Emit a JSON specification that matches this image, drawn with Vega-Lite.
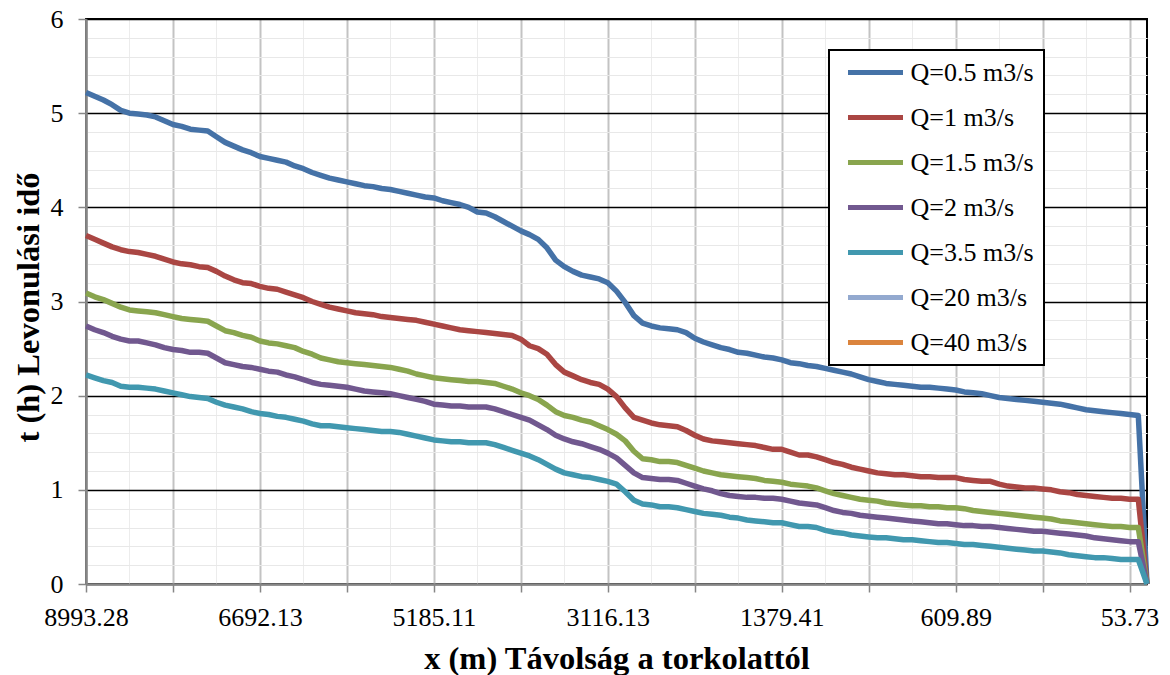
{
"$schema":"https://vega.github.io/schema/vega-lite/v6.json",
"width":1061,"height":565,
"autosize":{"type":"none"},
"padding":{"left":86,"top":19,"right":23,"bottom":91},
"background":"white",
"config":{"font":"Liberation Serif","view":{"stroke":"#000000","strokeWidth":2},"legend":{"strokeWidth":2},
 "axis":{"labelFont":"Liberation Serif","titleFont":"Liberation Serif"}},
"data":{"values":[
{"x":"8993.28","Q":"Q=0.5 m3/s","t":5.22},{"x":"8870.52","Q":"Q=0.5 m3/s","t":5.18},{"x":"8754.10","Q":"Q=0.5 m3/s","t":5.14},{"x":"8641.87","Q":"Q=0.5 m3/s","t":5.09},{"x":"8520.33","Q":"Q=0.5 m3/s","t":5.03},{"x":"8405.96","Q":"Q=0.5 m3/s","t":5.00},{"x":"8290.41","Q":"Q=0.5 m3/s","t":4.99},{"x":"8172.65","Q":"Q=0.5 m3/s","t":4.98},{"x":"8058.02","Q":"Q=0.5 m3/s","t":4.96},{"x":"7944.70","Q":"Q=0.5 m3/s","t":4.92},
{"x":"7829.15","Q":"Q=0.5 m3/s","t":4.88},{"x":"7712.84","Q":"Q=0.5 m3/s","t":4.86},{"x":"7598.37","Q":"Q=0.5 m3/s","t":4.83},{"x":"7480.92","Q":"Q=0.5 m3/s","t":4.82},{"x":"7366.28","Q":"Q=0.5 m3/s","t":4.81},{"x":"7251.60","Q":"Q=0.5 m3/s","t":4.75},{"x":"7137.45","Q":"Q=0.5 m3/s","t":4.69},{"x":"7020.13","Q":"Q=0.5 m3/s","t":4.65},{"x":"6904.79","Q":"Q=0.5 m3/s","t":4.61},{"x":"6795.34","Q":"Q=0.5 m3/s","t":4.58},
{"x":"6692.13","Q":"Q=0.5 m3/s","t":4.54},{"x":"6617.40","Q":"Q=0.5 m3/s","t":4.52},{"x":"6541.88","Q":"Q=0.5 m3/s","t":4.50},{"x":"6466.05","Q":"Q=0.5 m3/s","t":4.48},{"x":"6390.72","Q":"Q=0.5 m3/s","t":4.44},{"x":"6315.16","Q":"Q=0.5 m3/s","t":4.41},{"x":"6240.93","Q":"Q=0.5 m3/s","t":4.37},{"x":"6163.57","Q":"Q=0.5 m3/s","t":4.34},{"x":"6088.24","Q":"Q=0.5 m3/s","t":4.31},{"x":"6013.81","Q":"Q=0.5 m3/s","t":4.29},
{"x":"5938.36","Q":"Q=0.5 m3/s","t":4.27},{"x":"5862.70","Q":"Q=0.5 m3/s","t":4.25},{"x":"5787.45","Q":"Q=0.5 m3/s","t":4.23},{"x":"5712.09","Q":"Q=0.5 m3/s","t":4.22},{"x":"5636.78","Q":"Q=0.5 m3/s","t":4.20},{"x":"5561.32","Q":"Q=0.5 m3/s","t":4.19},{"x":"5486.04","Q":"Q=0.5 m3/s","t":4.17},{"x":"5410.67","Q":"Q=0.5 m3/s","t":4.15},{"x":"5335.29","Q":"Q=0.5 m3/s","t":4.13},{"x":"5260.48","Q":"Q=0.5 m3/s","t":4.11},
{"x":"5185.11","Q":"Q=0.5 m3/s","t":4.10},{"x":"5081.56","Q":"Q=0.5 m3/s","t":4.07},{"x":"4978.20","Q":"Q=0.5 m3/s","t":4.05},{"x":"4875.03","Q":"Q=0.5 m3/s","t":4.03},{"x":"4771.69","Q":"Q=0.5 m3/s","t":4.00},{"x":"4668.31","Q":"Q=0.5 m3/s","t":3.95},{"x":"4565.12","Q":"Q=0.5 m3/s","t":3.94},{"x":"4461.74","Q":"Q=0.5 m3/s","t":3.90},{"x":"4358.40","Q":"Q=0.5 m3/s","t":3.85},{"x":"4255.05","Q":"Q=0.5 m3/s","t":3.80},
{"x":"4151.63","Q":"Q=0.5 m3/s","t":3.75},{"x":"4048.27","Q":"Q=0.5 m3/s","t":3.71},{"x":"3944.91","Q":"Q=0.5 m3/s","t":3.66},{"x":"3841.52","Q":"Q=0.5 m3/s","t":3.57},{"x":"3738.18","Q":"Q=0.5 m3/s","t":3.44},{"x":"3634.86","Q":"Q=0.5 m3/s","t":3.37},{"x":"3531.44","Q":"Q=0.5 m3/s","t":3.32},{"x":"3428.09","Q":"Q=0.5 m3/s","t":3.28},{"x":"3324.73","Q":"Q=0.5 m3/s","t":3.26},{"x":"3220.37","Q":"Q=0.5 m3/s","t":3.24},
{"x":"3116.13","Q":"Q=0.5 m3/s","t":3.20},{"x":"3029.29","Q":"Q=0.5 m3/s","t":3.11},{"x":"2942.45","Q":"Q=0.5 m3/s","t":2.99},{"x":"2855.62","Q":"Q=0.5 m3/s","t":2.85},{"x":"2768.78","Q":"Q=0.5 m3/s","t":2.77},{"x":"2681.95","Q":"Q=0.5 m3/s","t":2.74},{"x":"2595.11","Q":"Q=0.5 m3/s","t":2.72},{"x":"2508.27","Q":"Q=0.5 m3/s","t":2.71},{"x":"2421.44","Q":"Q=0.5 m3/s","t":2.70},{"x":"2334.60","Q":"Q=0.5 m3/s","t":2.67},
{"x":"2247.77","Q":"Q=0.5 m3/s","t":2.61},{"x":"2160.93","Q":"Q=0.5 m3/s","t":2.57},{"x":"2074.09","Q":"Q=0.5 m3/s","t":2.54},{"x":"1987.26","Q":"Q=0.5 m3/s","t":2.51},{"x":"1900.42","Q":"Q=0.5 m3/s","t":2.49},{"x":"1813.59","Q":"Q=0.5 m3/s","t":2.46},{"x":"1726.75","Q":"Q=0.5 m3/s","t":2.45},{"x":"1639.91","Q":"Q=0.5 m3/s","t":2.43},{"x":"1553.08","Q":"Q=0.5 m3/s","t":2.41},{"x":"1466.24","Q":"Q=0.5 m3/s","t":2.40},
{"x":"1379.41","Q":"Q=0.5 m3/s","t":2.38},{"x":"1340.93","Q":"Q=0.5 m3/s","t":2.35},{"x":"1302.46","Q":"Q=0.5 m3/s","t":2.34},{"x":"1263.98","Q":"Q=0.5 m3/s","t":2.32},{"x":"1225.51","Q":"Q=0.5 m3/s","t":2.31},{"x":"1187.03","Q":"Q=0.5 m3/s","t":2.29},{"x":"1148.56","Q":"Q=0.5 m3/s","t":2.27},{"x":"1110.08","Q":"Q=0.5 m3/s","t":2.25},{"x":"1071.61","Q":"Q=0.5 m3/s","t":2.23},{"x":"1033.13","Q":"Q=0.5 m3/s","t":2.20},
{"x":"994.66","Q":"Q=0.5 m3/s","t":2.17},{"x":"956.18","Q":"Q=0.5 m3/s","t":2.15},{"x":"917.71","Q":"Q=0.5 m3/s","t":2.13},{"x":"879.23","Q":"Q=0.5 m3/s","t":2.12},{"x":"840.76","Q":"Q=0.5 m3/s","t":2.11},{"x":"802.28","Q":"Q=0.5 m3/s","t":2.10},{"x":"763.81","Q":"Q=0.5 m3/s","t":2.09},{"x":"725.33","Q":"Q=0.5 m3/s","t":2.09},{"x":"686.86","Q":"Q=0.5 m3/s","t":2.08},{"x":"648.38","Q":"Q=0.5 m3/s","t":2.07},
{"x":"609.89","Q":"Q=0.5 m3/s","t":2.06},{"x":"582.08","Q":"Q=0.5 m3/s","t":2.04},{"x":"554.27","Q":"Q=0.5 m3/s","t":2.03},{"x":"526.46","Q":"Q=0.5 m3/s","t":2.02},{"x":"498.65","Q":"Q=0.5 m3/s","t":2.00},{"x":"470.84","Q":"Q=0.5 m3/s","t":1.98},{"x":"443.03","Q":"Q=0.5 m3/s","t":1.97},{"x":"415.22","Q":"Q=0.5 m3/s","t":1.96},{"x":"387.41","Q":"Q=0.5 m3/s","t":1.95},{"x":"359.60","Q":"Q=0.5 m3/s","t":1.94},
{"x":"331.79","Q":"Q=0.5 m3/s","t":1.93},{"x":"303.98","Q":"Q=0.5 m3/s","t":1.92},{"x":"276.17","Q":"Q=0.5 m3/s","t":1.91},{"x":"248.36","Q":"Q=0.5 m3/s","t":1.89},{"x":"220.55","Q":"Q=0.5 m3/s","t":1.87},{"x":"192.74","Q":"Q=0.5 m3/s","t":1.85},{"x":"164.93","Q":"Q=0.5 m3/s","t":1.84},{"x":"137.12","Q":"Q=0.5 m3/s","t":1.83},{"x":"109.31","Q":"Q=0.5 m3/s","t":1.82},{"x":"81.50","Q":"Q=0.5 m3/s","t":1.81},
{"x":"53.73","Q":"Q=0.5 m3/s","t":1.80},{"x":"26.85","Q":"Q=0.5 m3/s","t":1.79},{"x":"0.00","Q":"Q=0.5 m3/s","t":0},

{"x":"8993.28","Q":"Q=1 m3/s","t":3.70},{"x":"8870.52","Q":"Q=1 m3/s","t":3.66},{"x":"8754.10","Q":"Q=1 m3/s","t":3.62},{"x":"8641.87","Q":"Q=1 m3/s","t":3.58},{"x":"8520.33","Q":"Q=1 m3/s","t":3.55},{"x":"8405.96","Q":"Q=1 m3/s","t":3.53},{"x":"8290.41","Q":"Q=1 m3/s","t":3.52},{"x":"8172.65","Q":"Q=1 m3/s","t":3.50},{"x":"8058.02","Q":"Q=1 m3/s","t":3.48},{"x":"7944.70","Q":"Q=1 m3/s","t":3.45},
{"x":"7829.15","Q":"Q=1 m3/s","t":3.42},{"x":"7712.84","Q":"Q=1 m3/s","t":3.40},{"x":"7598.37","Q":"Q=1 m3/s","t":3.39},{"x":"7480.92","Q":"Q=1 m3/s","t":3.37},{"x":"7366.28","Q":"Q=1 m3/s","t":3.36},{"x":"7251.60","Q":"Q=1 m3/s","t":3.32},{"x":"7137.45","Q":"Q=1 m3/s","t":3.27},{"x":"7020.13","Q":"Q=1 m3/s","t":3.23},{"x":"6904.79","Q":"Q=1 m3/s","t":3.20},{"x":"6795.34","Q":"Q=1 m3/s","t":3.19},
{"x":"6692.13","Q":"Q=1 m3/s","t":3.16},{"x":"6617.40","Q":"Q=1 m3/s","t":3.14},{"x":"6541.88","Q":"Q=1 m3/s","t":3.13},{"x":"6466.05","Q":"Q=1 m3/s","t":3.10},{"x":"6390.72","Q":"Q=1 m3/s","t":3.07},{"x":"6315.16","Q":"Q=1 m3/s","t":3.04},{"x":"6240.93","Q":"Q=1 m3/s","t":3.00},{"x":"6163.57","Q":"Q=1 m3/s","t":2.97},{"x":"6088.24","Q":"Q=1 m3/s","t":2.94},{"x":"6013.81","Q":"Q=1 m3/s","t":2.92},
{"x":"5938.36","Q":"Q=1 m3/s","t":2.90},{"x":"5862.70","Q":"Q=1 m3/s","t":2.88},{"x":"5787.45","Q":"Q=1 m3/s","t":2.87},{"x":"5712.09","Q":"Q=1 m3/s","t":2.86},{"x":"5636.78","Q":"Q=1 m3/s","t":2.84},{"x":"5561.32","Q":"Q=1 m3/s","t":2.83},{"x":"5486.04","Q":"Q=1 m3/s","t":2.82},{"x":"5410.67","Q":"Q=1 m3/s","t":2.81},{"x":"5335.29","Q":"Q=1 m3/s","t":2.80},{"x":"5260.48","Q":"Q=1 m3/s","t":2.78},
{"x":"5185.11","Q":"Q=1 m3/s","t":2.76},{"x":"5081.56","Q":"Q=1 m3/s","t":2.74},{"x":"4978.20","Q":"Q=1 m3/s","t":2.72},{"x":"4875.03","Q":"Q=1 m3/s","t":2.70},{"x":"4771.69","Q":"Q=1 m3/s","t":2.69},{"x":"4668.31","Q":"Q=1 m3/s","t":2.68},{"x":"4565.12","Q":"Q=1 m3/s","t":2.67},{"x":"4461.74","Q":"Q=1 m3/s","t":2.66},{"x":"4358.40","Q":"Q=1 m3/s","t":2.65},{"x":"4255.05","Q":"Q=1 m3/s","t":2.64},
{"x":"4151.63","Q":"Q=1 m3/s","t":2.60},{"x":"4048.27","Q":"Q=1 m3/s","t":2.53},{"x":"3944.91","Q":"Q=1 m3/s","t":2.50},{"x":"3841.52","Q":"Q=1 m3/s","t":2.44},{"x":"3738.18","Q":"Q=1 m3/s","t":2.33},{"x":"3634.86","Q":"Q=1 m3/s","t":2.25},{"x":"3531.44","Q":"Q=1 m3/s","t":2.21},{"x":"3428.09","Q":"Q=1 m3/s","t":2.17},{"x":"3324.73","Q":"Q=1 m3/s","t":2.14},{"x":"3220.37","Q":"Q=1 m3/s","t":2.12},
{"x":"3116.13","Q":"Q=1 m3/s","t":2.07},{"x":"3029.29","Q":"Q=1 m3/s","t":1.99},{"x":"2942.45","Q":"Q=1 m3/s","t":1.87},{"x":"2855.62","Q":"Q=1 m3/s","t":1.77},{"x":"2768.78","Q":"Q=1 m3/s","t":1.74},{"x":"2681.95","Q":"Q=1 m3/s","t":1.71},{"x":"2595.11","Q":"Q=1 m3/s","t":1.69},{"x":"2508.27","Q":"Q=1 m3/s","t":1.68},{"x":"2421.44","Q":"Q=1 m3/s","t":1.67},{"x":"2334.60","Q":"Q=1 m3/s","t":1.63},
{"x":"2247.77","Q":"Q=1 m3/s","t":1.58},{"x":"2160.93","Q":"Q=1 m3/s","t":1.54},{"x":"2074.09","Q":"Q=1 m3/s","t":1.52},{"x":"1987.26","Q":"Q=1 m3/s","t":1.51},{"x":"1900.42","Q":"Q=1 m3/s","t":1.50},{"x":"1813.59","Q":"Q=1 m3/s","t":1.49},{"x":"1726.75","Q":"Q=1 m3/s","t":1.48},{"x":"1639.91","Q":"Q=1 m3/s","t":1.47},{"x":"1553.08","Q":"Q=1 m3/s","t":1.45},{"x":"1466.24","Q":"Q=1 m3/s","t":1.43},
{"x":"1379.41","Q":"Q=1 m3/s","t":1.43},{"x":"1340.93","Q":"Q=1 m3/s","t":1.40},{"x":"1302.46","Q":"Q=1 m3/s","t":1.37},{"x":"1263.98","Q":"Q=1 m3/s","t":1.37},{"x":"1225.51","Q":"Q=1 m3/s","t":1.35},{"x":"1187.03","Q":"Q=1 m3/s","t":1.32},{"x":"1148.56","Q":"Q=1 m3/s","t":1.29},{"x":"1110.08","Q":"Q=1 m3/s","t":1.27},{"x":"1071.61","Q":"Q=1 m3/s","t":1.24},{"x":"1033.13","Q":"Q=1 m3/s","t":1.22},
{"x":"994.66","Q":"Q=1 m3/s","t":1.20},{"x":"956.18","Q":"Q=1 m3/s","t":1.18},{"x":"917.71","Q":"Q=1 m3/s","t":1.17},{"x":"879.23","Q":"Q=1 m3/s","t":1.16},{"x":"840.76","Q":"Q=1 m3/s","t":1.16},{"x":"802.28","Q":"Q=1 m3/s","t":1.15},{"x":"763.81","Q":"Q=1 m3/s","t":1.14},{"x":"725.33","Q":"Q=1 m3/s","t":1.14},{"x":"686.86","Q":"Q=1 m3/s","t":1.13},{"x":"648.38","Q":"Q=1 m3/s","t":1.13},
{"x":"609.89","Q":"Q=1 m3/s","t":1.13},{"x":"582.08","Q":"Q=1 m3/s","t":1.11},{"x":"554.27","Q":"Q=1 m3/s","t":1.10},{"x":"526.46","Q":"Q=1 m3/s","t":1.09},{"x":"498.65","Q":"Q=1 m3/s","t":1.09},{"x":"470.84","Q":"Q=1 m3/s","t":1.06},{"x":"443.03","Q":"Q=1 m3/s","t":1.04},{"x":"415.22","Q":"Q=1 m3/s","t":1.03},{"x":"387.41","Q":"Q=1 m3/s","t":1.02},{"x":"359.60","Q":"Q=1 m3/s","t":1.02},
{"x":"331.79","Q":"Q=1 m3/s","t":1.01},{"x":"303.98","Q":"Q=1 m3/s","t":1.00},{"x":"276.17","Q":"Q=1 m3/s","t":0.98},{"x":"248.36","Q":"Q=1 m3/s","t":0.97},{"x":"220.55","Q":"Q=1 m3/s","t":0.95},{"x":"192.74","Q":"Q=1 m3/s","t":0.94},{"x":"164.93","Q":"Q=1 m3/s","t":0.93},{"x":"137.12","Q":"Q=1 m3/s","t":0.92},{"x":"109.31","Q":"Q=1 m3/s","t":0.91},{"x":"81.50","Q":"Q=1 m3/s","t":0.91},
{"x":"53.73","Q":"Q=1 m3/s","t":0.90},{"x":"26.85","Q":"Q=1 m3/s","t":0.90},{"x":"0.00","Q":"Q=1 m3/s","t":0},

{"x":"8993.28","Q":"Q=1.5 m3/s","t":3.09},{"x":"8870.52","Q":"Q=1.5 m3/s","t":3.05},{"x":"8754.10","Q":"Q=1.5 m3/s","t":3.02},{"x":"8641.87","Q":"Q=1.5 m3/s","t":2.98},{"x":"8520.33","Q":"Q=1.5 m3/s","t":2.94},{"x":"8405.96","Q":"Q=1.5 m3/s","t":2.91},{"x":"8290.41","Q":"Q=1.5 m3/s","t":2.90},{"x":"8172.65","Q":"Q=1.5 m3/s","t":2.89},{"x":"8058.02","Q":"Q=1.5 m3/s","t":2.88},{"x":"7944.70","Q":"Q=1.5 m3/s","t":2.86},
{"x":"7829.15","Q":"Q=1.5 m3/s","t":2.84},{"x":"7712.84","Q":"Q=1.5 m3/s","t":2.82},{"x":"7598.37","Q":"Q=1.5 m3/s","t":2.81},{"x":"7480.92","Q":"Q=1.5 m3/s","t":2.80},{"x":"7366.28","Q":"Q=1.5 m3/s","t":2.79},{"x":"7251.60","Q":"Q=1.5 m3/s","t":2.74},{"x":"7137.45","Q":"Q=1.5 m3/s","t":2.69},{"x":"7020.13","Q":"Q=1.5 m3/s","t":2.67},{"x":"6904.79","Q":"Q=1.5 m3/s","t":2.64},{"x":"6795.34","Q":"Q=1.5 m3/s","t":2.62},
{"x":"6692.13","Q":"Q=1.5 m3/s","t":2.58},{"x":"6617.40","Q":"Q=1.5 m3/s","t":2.56},{"x":"6541.88","Q":"Q=1.5 m3/s","t":2.55},{"x":"6466.05","Q":"Q=1.5 m3/s","t":2.53},{"x":"6390.72","Q":"Q=1.5 m3/s","t":2.51},{"x":"6315.16","Q":"Q=1.5 m3/s","t":2.47},{"x":"6240.93","Q":"Q=1.5 m3/s","t":2.44},{"x":"6163.57","Q":"Q=1.5 m3/s","t":2.40},{"x":"6088.24","Q":"Q=1.5 m3/s","t":2.38},{"x":"6013.81","Q":"Q=1.5 m3/s","t":2.36},
{"x":"5938.36","Q":"Q=1.5 m3/s","t":2.35},{"x":"5862.70","Q":"Q=1.5 m3/s","t":2.34},{"x":"5787.45","Q":"Q=1.5 m3/s","t":2.33},{"x":"5712.09","Q":"Q=1.5 m3/s","t":2.32},{"x":"5636.78","Q":"Q=1.5 m3/s","t":2.31},{"x":"5561.32","Q":"Q=1.5 m3/s","t":2.30},{"x":"5486.04","Q":"Q=1.5 m3/s","t":2.28},{"x":"5410.67","Q":"Q=1.5 m3/s","t":2.26},{"x":"5335.29","Q":"Q=1.5 m3/s","t":2.23},{"x":"5260.48","Q":"Q=1.5 m3/s","t":2.21},
{"x":"5185.11","Q":"Q=1.5 m3/s","t":2.19},{"x":"5081.56","Q":"Q=1.5 m3/s","t":2.18},{"x":"4978.20","Q":"Q=1.5 m3/s","t":2.17},{"x":"4875.03","Q":"Q=1.5 m3/s","t":2.16},{"x":"4771.69","Q":"Q=1.5 m3/s","t":2.15},{"x":"4668.31","Q":"Q=1.5 m3/s","t":2.15},{"x":"4565.12","Q":"Q=1.5 m3/s","t":2.14},{"x":"4461.74","Q":"Q=1.5 m3/s","t":2.13},{"x":"4358.40","Q":"Q=1.5 m3/s","t":2.10},{"x":"4255.05","Q":"Q=1.5 m3/s","t":2.07},
{"x":"4151.63","Q":"Q=1.5 m3/s","t":2.03},{"x":"4048.27","Q":"Q=1.5 m3/s","t":2.00},{"x":"3944.91","Q":"Q=1.5 m3/s","t":1.96},{"x":"3841.52","Q":"Q=1.5 m3/s","t":1.90},{"x":"3738.18","Q":"Q=1.5 m3/s","t":1.83},{"x":"3634.86","Q":"Q=1.5 m3/s","t":1.79},{"x":"3531.44","Q":"Q=1.5 m3/s","t":1.77},{"x":"3428.09","Q":"Q=1.5 m3/s","t":1.74},{"x":"3324.73","Q":"Q=1.5 m3/s","t":1.72},{"x":"3220.37","Q":"Q=1.5 m3/s","t":1.68},
{"x":"3116.13","Q":"Q=1.5 m3/s","t":1.64},{"x":"3029.29","Q":"Q=1.5 m3/s","t":1.59},{"x":"2942.45","Q":"Q=1.5 m3/s","t":1.52},{"x":"2855.62","Q":"Q=1.5 m3/s","t":1.41},{"x":"2768.78","Q":"Q=1.5 m3/s","t":1.33},{"x":"2681.95","Q":"Q=1.5 m3/s","t":1.32},{"x":"2595.11","Q":"Q=1.5 m3/s","t":1.30},{"x":"2508.27","Q":"Q=1.5 m3/s","t":1.30},{"x":"2421.44","Q":"Q=1.5 m3/s","t":1.29},{"x":"2334.60","Q":"Q=1.5 m3/s","t":1.26},
{"x":"2247.77","Q":"Q=1.5 m3/s","t":1.23},{"x":"2160.93","Q":"Q=1.5 m3/s","t":1.20},{"x":"2074.09","Q":"Q=1.5 m3/s","t":1.18},{"x":"1987.26","Q":"Q=1.5 m3/s","t":1.16},{"x":"1900.42","Q":"Q=1.5 m3/s","t":1.15},{"x":"1813.59","Q":"Q=1.5 m3/s","t":1.14},{"x":"1726.75","Q":"Q=1.5 m3/s","t":1.13},{"x":"1639.91","Q":"Q=1.5 m3/s","t":1.12},{"x":"1553.08","Q":"Q=1.5 m3/s","t":1.10},{"x":"1466.24","Q":"Q=1.5 m3/s","t":1.09},
{"x":"1379.41","Q":"Q=1.5 m3/s","t":1.08},{"x":"1340.93","Q":"Q=1.5 m3/s","t":1.06},{"x":"1302.46","Q":"Q=1.5 m3/s","t":1.05},{"x":"1263.98","Q":"Q=1.5 m3/s","t":1.04},{"x":"1225.51","Q":"Q=1.5 m3/s","t":1.02},{"x":"1187.03","Q":"Q=1.5 m3/s","t":0.99},{"x":"1148.56","Q":"Q=1.5 m3/s","t":0.96},{"x":"1110.08","Q":"Q=1.5 m3/s","t":0.94},{"x":"1071.61","Q":"Q=1.5 m3/s","t":0.92},{"x":"1033.13","Q":"Q=1.5 m3/s","t":0.90},
{"x":"994.66","Q":"Q=1.5 m3/s","t":0.89},{"x":"956.18","Q":"Q=1.5 m3/s","t":0.88},{"x":"917.71","Q":"Q=1.5 m3/s","t":0.86},{"x":"879.23","Q":"Q=1.5 m3/s","t":0.85},{"x":"840.76","Q":"Q=1.5 m3/s","t":0.84},{"x":"802.28","Q":"Q=1.5 m3/s","t":0.83},{"x":"763.81","Q":"Q=1.5 m3/s","t":0.83},{"x":"725.33","Q":"Q=1.5 m3/s","t":0.82},{"x":"686.86","Q":"Q=1.5 m3/s","t":0.82},{"x":"648.38","Q":"Q=1.5 m3/s","t":0.81},
{"x":"609.89","Q":"Q=1.5 m3/s","t":0.81},{"x":"582.08","Q":"Q=1.5 m3/s","t":0.80},{"x":"554.27","Q":"Q=1.5 m3/s","t":0.78},{"x":"526.46","Q":"Q=1.5 m3/s","t":0.77},{"x":"498.65","Q":"Q=1.5 m3/s","t":0.76},{"x":"470.84","Q":"Q=1.5 m3/s","t":0.75},{"x":"443.03","Q":"Q=1.5 m3/s","t":0.74},{"x":"415.22","Q":"Q=1.5 m3/s","t":0.73},{"x":"387.41","Q":"Q=1.5 m3/s","t":0.72},{"x":"359.60","Q":"Q=1.5 m3/s","t":0.71},
{"x":"331.79","Q":"Q=1.5 m3/s","t":0.70},{"x":"303.98","Q":"Q=1.5 m3/s","t":0.69},{"x":"276.17","Q":"Q=1.5 m3/s","t":0.67},{"x":"248.36","Q":"Q=1.5 m3/s","t":0.66},{"x":"220.55","Q":"Q=1.5 m3/s","t":0.65},{"x":"192.74","Q":"Q=1.5 m3/s","t":0.64},{"x":"164.93","Q":"Q=1.5 m3/s","t":0.63},{"x":"137.12","Q":"Q=1.5 m3/s","t":0.62},{"x":"109.31","Q":"Q=1.5 m3/s","t":0.61},{"x":"81.50","Q":"Q=1.5 m3/s","t":0.61},
{"x":"53.73","Q":"Q=1.5 m3/s","t":0.60},{"x":"26.85","Q":"Q=1.5 m3/s","t":0.60},{"x":"0.00","Q":"Q=1.5 m3/s","t":0},

{"x":"8993.28","Q":"Q=2 m3/s","t":2.74},{"x":"8870.52","Q":"Q=2 m3/s","t":2.70},{"x":"8754.10","Q":"Q=2 m3/s","t":2.67},{"x":"8641.87","Q":"Q=2 m3/s","t":2.63},{"x":"8520.33","Q":"Q=2 m3/s","t":2.60},{"x":"8405.96","Q":"Q=2 m3/s","t":2.58},{"x":"8290.41","Q":"Q=2 m3/s","t":2.58},{"x":"8172.65","Q":"Q=2 m3/s","t":2.56},{"x":"8058.02","Q":"Q=2 m3/s","t":2.54},{"x":"7944.70","Q":"Q=2 m3/s","t":2.51},
{"x":"7829.15","Q":"Q=2 m3/s","t":2.49},{"x":"7712.84","Q":"Q=2 m3/s","t":2.48},{"x":"7598.37","Q":"Q=2 m3/s","t":2.46},{"x":"7480.92","Q":"Q=2 m3/s","t":2.46},{"x":"7366.28","Q":"Q=2 m3/s","t":2.45},{"x":"7251.60","Q":"Q=2 m3/s","t":2.40},{"x":"7137.45","Q":"Q=2 m3/s","t":2.35},{"x":"7020.13","Q":"Q=2 m3/s","t":2.33},{"x":"6904.79","Q":"Q=2 m3/s","t":2.31},{"x":"6795.34","Q":"Q=2 m3/s","t":2.30},
{"x":"6692.13","Q":"Q=2 m3/s","t":2.28},{"x":"6617.40","Q":"Q=2 m3/s","t":2.26},{"x":"6541.88","Q":"Q=2 m3/s","t":2.25},{"x":"6466.05","Q":"Q=2 m3/s","t":2.22},{"x":"6390.72","Q":"Q=2 m3/s","t":2.20},{"x":"6315.16","Q":"Q=2 m3/s","t":2.17},{"x":"6240.93","Q":"Q=2 m3/s","t":2.14},{"x":"6163.57","Q":"Q=2 m3/s","t":2.12},{"x":"6088.24","Q":"Q=2 m3/s","t":2.11},{"x":"6013.81","Q":"Q=2 m3/s","t":2.10},
{"x":"5938.36","Q":"Q=2 m3/s","t":2.09},{"x":"5862.70","Q":"Q=2 m3/s","t":2.07},{"x":"5787.45","Q":"Q=2 m3/s","t":2.05},{"x":"5712.09","Q":"Q=2 m3/s","t":2.04},{"x":"5636.78","Q":"Q=2 m3/s","t":2.03},{"x":"5561.32","Q":"Q=2 m3/s","t":2.02},{"x":"5486.04","Q":"Q=2 m3/s","t":2.00},{"x":"5410.67","Q":"Q=2 m3/s","t":1.98},{"x":"5335.29","Q":"Q=2 m3/s","t":1.96},{"x":"5260.48","Q":"Q=2 m3/s","t":1.94},
{"x":"5185.11","Q":"Q=2 m3/s","t":1.91},{"x":"5081.56","Q":"Q=2 m3/s","t":1.90},{"x":"4978.20","Q":"Q=2 m3/s","t":1.89},{"x":"4875.03","Q":"Q=2 m3/s","t":1.89},{"x":"4771.69","Q":"Q=2 m3/s","t":1.88},{"x":"4668.31","Q":"Q=2 m3/s","t":1.88},{"x":"4565.12","Q":"Q=2 m3/s","t":1.88},{"x":"4461.74","Q":"Q=2 m3/s","t":1.86},{"x":"4358.40","Q":"Q=2 m3/s","t":1.83},{"x":"4255.05","Q":"Q=2 m3/s","t":1.80},
{"x":"4151.63","Q":"Q=2 m3/s","t":1.77},{"x":"4048.27","Q":"Q=2 m3/s","t":1.74},{"x":"3944.91","Q":"Q=2 m3/s","t":1.69},{"x":"3841.52","Q":"Q=2 m3/s","t":1.64},{"x":"3738.18","Q":"Q=2 m3/s","t":1.58},{"x":"3634.86","Q":"Q=2 m3/s","t":1.54},{"x":"3531.44","Q":"Q=2 m3/s","t":1.51},{"x":"3428.09","Q":"Q=2 m3/s","t":1.49},{"x":"3324.73","Q":"Q=2 m3/s","t":1.46},{"x":"3220.37","Q":"Q=2 m3/s","t":1.43},
{"x":"3116.13","Q":"Q=2 m3/s","t":1.39},{"x":"3029.29","Q":"Q=2 m3/s","t":1.34},{"x":"2942.45","Q":"Q=2 m3/s","t":1.26},{"x":"2855.62","Q":"Q=2 m3/s","t":1.18},{"x":"2768.78","Q":"Q=2 m3/s","t":1.13},{"x":"2681.95","Q":"Q=2 m3/s","t":1.12},{"x":"2595.11","Q":"Q=2 m3/s","t":1.11},{"x":"2508.27","Q":"Q=2 m3/s","t":1.11},{"x":"2421.44","Q":"Q=2 m3/s","t":1.10},{"x":"2334.60","Q":"Q=2 m3/s","t":1.07},
{"x":"2247.77","Q":"Q=2 m3/s","t":1.04},{"x":"2160.93","Q":"Q=2 m3/s","t":1.01},{"x":"2074.09","Q":"Q=2 m3/s","t":0.99},{"x":"1987.26","Q":"Q=2 m3/s","t":0.96},{"x":"1900.42","Q":"Q=2 m3/s","t":0.94},{"x":"1813.59","Q":"Q=2 m3/s","t":0.93},{"x":"1726.75","Q":"Q=2 m3/s","t":0.92},{"x":"1639.91","Q":"Q=2 m3/s","t":0.92},{"x":"1553.08","Q":"Q=2 m3/s","t":0.91},{"x":"1466.24","Q":"Q=2 m3/s","t":0.91},
{"x":"1379.41","Q":"Q=2 m3/s","t":0.90},{"x":"1340.93","Q":"Q=2 m3/s","t":0.88},{"x":"1302.46","Q":"Q=2 m3/s","t":0.86},{"x":"1263.98","Q":"Q=2 m3/s","t":0.85},{"x":"1225.51","Q":"Q=2 m3/s","t":0.84},{"x":"1187.03","Q":"Q=2 m3/s","t":0.81},{"x":"1148.56","Q":"Q=2 m3/s","t":0.78},{"x":"1110.08","Q":"Q=2 m3/s","t":0.76},{"x":"1071.61","Q":"Q=2 m3/s","t":0.75},{"x":"1033.13","Q":"Q=2 m3/s","t":0.73},
{"x":"994.66","Q":"Q=2 m3/s","t":0.72},{"x":"956.18","Q":"Q=2 m3/s","t":0.71},{"x":"917.71","Q":"Q=2 m3/s","t":0.70},{"x":"879.23","Q":"Q=2 m3/s","t":0.69},{"x":"840.76","Q":"Q=2 m3/s","t":0.68},{"x":"802.28","Q":"Q=2 m3/s","t":0.67},{"x":"763.81","Q":"Q=2 m3/s","t":0.66},{"x":"725.33","Q":"Q=2 m3/s","t":0.65},{"x":"686.86","Q":"Q=2 m3/s","t":0.64},{"x":"648.38","Q":"Q=2 m3/s","t":0.64},
{"x":"609.89","Q":"Q=2 m3/s","t":0.63},{"x":"582.08","Q":"Q=2 m3/s","t":0.62},{"x":"554.27","Q":"Q=2 m3/s","t":0.62},{"x":"526.46","Q":"Q=2 m3/s","t":0.61},{"x":"498.65","Q":"Q=2 m3/s","t":0.61},{"x":"470.84","Q":"Q=2 m3/s","t":0.60},{"x":"443.03","Q":"Q=2 m3/s","t":0.59},{"x":"415.22","Q":"Q=2 m3/s","t":0.58},{"x":"387.41","Q":"Q=2 m3/s","t":0.57},{"x":"359.60","Q":"Q=2 m3/s","t":0.56},
{"x":"331.79","Q":"Q=2 m3/s","t":0.56},{"x":"303.98","Q":"Q=2 m3/s","t":0.55},{"x":"276.17","Q":"Q=2 m3/s","t":0.54},{"x":"248.36","Q":"Q=2 m3/s","t":0.53},{"x":"220.55","Q":"Q=2 m3/s","t":0.52},{"x":"192.74","Q":"Q=2 m3/s","t":0.51},{"x":"164.93","Q":"Q=2 m3/s","t":0.49},{"x":"137.12","Q":"Q=2 m3/s","t":0.48},{"x":"109.31","Q":"Q=2 m3/s","t":0.47},{"x":"81.50","Q":"Q=2 m3/s","t":0.46},
{"x":"53.73","Q":"Q=2 m3/s","t":0.45},{"x":"26.85","Q":"Q=2 m3/s","t":0.45},{"x":"0.00","Q":"Q=2 m3/s","t":0},

{"x":"8993.28","Q":"Q=3.5 m3/s","t":2.22},{"x":"8870.52","Q":"Q=3.5 m3/s","t":2.19},{"x":"8754.10","Q":"Q=3.5 m3/s","t":2.16},{"x":"8641.87","Q":"Q=3.5 m3/s","t":2.14},{"x":"8520.33","Q":"Q=3.5 m3/s","t":2.10},{"x":"8405.96","Q":"Q=3.5 m3/s","t":2.09},{"x":"8290.41","Q":"Q=3.5 m3/s","t":2.09},{"x":"8172.65","Q":"Q=3.5 m3/s","t":2.08},{"x":"8058.02","Q":"Q=3.5 m3/s","t":2.07},{"x":"7944.70","Q":"Q=3.5 m3/s","t":2.05},
{"x":"7829.15","Q":"Q=3.5 m3/s","t":2.03},{"x":"7712.84","Q":"Q=3.5 m3/s","t":2.01},{"x":"7598.37","Q":"Q=3.5 m3/s","t":1.99},{"x":"7480.92","Q":"Q=3.5 m3/s","t":1.98},{"x":"7366.28","Q":"Q=3.5 m3/s","t":1.97},{"x":"7251.60","Q":"Q=3.5 m3/s","t":1.93},{"x":"7137.45","Q":"Q=3.5 m3/s","t":1.90},{"x":"7020.13","Q":"Q=3.5 m3/s","t":1.88},{"x":"6904.79","Q":"Q=3.5 m3/s","t":1.86},{"x":"6795.34","Q":"Q=3.5 m3/s","t":1.83},
{"x":"6692.13","Q":"Q=3.5 m3/s","t":1.81},{"x":"6617.40","Q":"Q=3.5 m3/s","t":1.80},{"x":"6541.88","Q":"Q=3.5 m3/s","t":1.78},{"x":"6466.05","Q":"Q=3.5 m3/s","t":1.77},{"x":"6390.72","Q":"Q=3.5 m3/s","t":1.75},{"x":"6315.16","Q":"Q=3.5 m3/s","t":1.73},{"x":"6240.93","Q":"Q=3.5 m3/s","t":1.70},{"x":"6163.57","Q":"Q=3.5 m3/s","t":1.68},{"x":"6088.24","Q":"Q=3.5 m3/s","t":1.68},{"x":"6013.81","Q":"Q=3.5 m3/s","t":1.67},
{"x":"5938.36","Q":"Q=3.5 m3/s","t":1.66},{"x":"5862.70","Q":"Q=3.5 m3/s","t":1.65},{"x":"5787.45","Q":"Q=3.5 m3/s","t":1.64},{"x":"5712.09","Q":"Q=3.5 m3/s","t":1.63},{"x":"5636.78","Q":"Q=3.5 m3/s","t":1.62},{"x":"5561.32","Q":"Q=3.5 m3/s","t":1.62},{"x":"5486.04","Q":"Q=3.5 m3/s","t":1.61},{"x":"5410.67","Q":"Q=3.5 m3/s","t":1.59},{"x":"5335.29","Q":"Q=3.5 m3/s","t":1.57},{"x":"5260.48","Q":"Q=3.5 m3/s","t":1.55},
{"x":"5185.11","Q":"Q=3.5 m3/s","t":1.53},{"x":"5081.56","Q":"Q=3.5 m3/s","t":1.52},{"x":"4978.20","Q":"Q=3.5 m3/s","t":1.51},{"x":"4875.03","Q":"Q=3.5 m3/s","t":1.51},{"x":"4771.69","Q":"Q=3.5 m3/s","t":1.50},{"x":"4668.31","Q":"Q=3.5 m3/s","t":1.50},{"x":"4565.12","Q":"Q=3.5 m3/s","t":1.50},{"x":"4461.74","Q":"Q=3.5 m3/s","t":1.48},{"x":"4358.40","Q":"Q=3.5 m3/s","t":1.45},{"x":"4255.05","Q":"Q=3.5 m3/s","t":1.42},
{"x":"4151.63","Q":"Q=3.5 m3/s","t":1.39},{"x":"4048.27","Q":"Q=3.5 m3/s","t":1.36},{"x":"3944.91","Q":"Q=3.5 m3/s","t":1.32},{"x":"3841.52","Q":"Q=3.5 m3/s","t":1.27},{"x":"3738.18","Q":"Q=3.5 m3/s","t":1.22},{"x":"3634.86","Q":"Q=3.5 m3/s","t":1.18},{"x":"3531.44","Q":"Q=3.5 m3/s","t":1.16},{"x":"3428.09","Q":"Q=3.5 m3/s","t":1.14},{"x":"3324.73","Q":"Q=3.5 m3/s","t":1.13},{"x":"3220.37","Q":"Q=3.5 m3/s","t":1.11},
{"x":"3116.13","Q":"Q=3.5 m3/s","t":1.09},{"x":"3029.29","Q":"Q=3.5 m3/s","t":1.06},{"x":"2942.45","Q":"Q=3.5 m3/s","t":0.98},{"x":"2855.62","Q":"Q=3.5 m3/s","t":0.89},{"x":"2768.78","Q":"Q=3.5 m3/s","t":0.85},{"x":"2681.95","Q":"Q=3.5 m3/s","t":0.84},{"x":"2595.11","Q":"Q=3.5 m3/s","t":0.82},{"x":"2508.27","Q":"Q=3.5 m3/s","t":0.82},{"x":"2421.44","Q":"Q=3.5 m3/s","t":0.81},{"x":"2334.60","Q":"Q=3.5 m3/s","t":0.79},
{"x":"2247.77","Q":"Q=3.5 m3/s","t":0.77},{"x":"2160.93","Q":"Q=3.5 m3/s","t":0.75},{"x":"2074.09","Q":"Q=3.5 m3/s","t":0.74},{"x":"1987.26","Q":"Q=3.5 m3/s","t":0.73},{"x":"1900.42","Q":"Q=3.5 m3/s","t":0.71},{"x":"1813.59","Q":"Q=3.5 m3/s","t":0.70},{"x":"1726.75","Q":"Q=3.5 m3/s","t":0.68},{"x":"1639.91","Q":"Q=3.5 m3/s","t":0.67},{"x":"1553.08","Q":"Q=3.5 m3/s","t":0.66},{"x":"1466.24","Q":"Q=3.5 m3/s","t":0.65},
{"x":"1379.41","Q":"Q=3.5 m3/s","t":0.65},{"x":"1340.93","Q":"Q=3.5 m3/s","t":0.63},{"x":"1302.46","Q":"Q=3.5 m3/s","t":0.61},{"x":"1263.98","Q":"Q=3.5 m3/s","t":0.61},{"x":"1225.51","Q":"Q=3.5 m3/s","t":0.60},{"x":"1187.03","Q":"Q=3.5 m3/s","t":0.57},{"x":"1148.56","Q":"Q=3.5 m3/s","t":0.55},{"x":"1110.08","Q":"Q=3.5 m3/s","t":0.54},{"x":"1071.61","Q":"Q=3.5 m3/s","t":0.52},{"x":"1033.13","Q":"Q=3.5 m3/s","t":0.51},
{"x":"994.66","Q":"Q=3.5 m3/s","t":0.50},{"x":"956.18","Q":"Q=3.5 m3/s","t":0.49},{"x":"917.71","Q":"Q=3.5 m3/s","t":0.49},{"x":"879.23","Q":"Q=3.5 m3/s","t":0.48},{"x":"840.76","Q":"Q=3.5 m3/s","t":0.47},{"x":"802.28","Q":"Q=3.5 m3/s","t":0.47},{"x":"763.81","Q":"Q=3.5 m3/s","t":0.46},{"x":"725.33","Q":"Q=3.5 m3/s","t":0.45},{"x":"686.86","Q":"Q=3.5 m3/s","t":0.44},{"x":"648.38","Q":"Q=3.5 m3/s","t":0.44},
{"x":"609.89","Q":"Q=3.5 m3/s","t":0.43},{"x":"582.08","Q":"Q=3.5 m3/s","t":0.42},{"x":"554.27","Q":"Q=3.5 m3/s","t":0.42},{"x":"526.46","Q":"Q=3.5 m3/s","t":0.41},{"x":"498.65","Q":"Q=3.5 m3/s","t":0.40},{"x":"470.84","Q":"Q=3.5 m3/s","t":0.39},{"x":"443.03","Q":"Q=3.5 m3/s","t":0.38},{"x":"415.22","Q":"Q=3.5 m3/s","t":0.37},{"x":"387.41","Q":"Q=3.5 m3/s","t":0.36},{"x":"359.60","Q":"Q=3.5 m3/s","t":0.35},
{"x":"331.79","Q":"Q=3.5 m3/s","t":0.35},{"x":"303.98","Q":"Q=3.5 m3/s","t":0.34},{"x":"276.17","Q":"Q=3.5 m3/s","t":0.33},{"x":"248.36","Q":"Q=3.5 m3/s","t":0.31},{"x":"220.55","Q":"Q=3.5 m3/s","t":0.30},{"x":"192.74","Q":"Q=3.5 m3/s","t":0.29},{"x":"164.93","Q":"Q=3.5 m3/s","t":0.28},{"x":"137.12","Q":"Q=3.5 m3/s","t":0.28},{"x":"109.31","Q":"Q=3.5 m3/s","t":0.27},{"x":"81.50","Q":"Q=3.5 m3/s","t":0.26},
{"x":"53.73","Q":"Q=3.5 m3/s","t":0.26},{"x":"26.85","Q":"Q=3.5 m3/s","t":0.26},{"x":"0.00","Q":"Q=3.5 m3/s","t":0}
]},
"mark":{"type":"line","strokeWidth":5.5,"strokeJoin":"round","strokeCap":"butt"},
"encoding":{
"x":{"field":"x","type":"ordinal","sort":null,
 "scale":{"type":"point","padding":0},
 "axis":{"title":"x (m) Távolság a torkolattól",
  "values":["8993.28","8405.96","7829.15","7251.60","6692.13","6315.16","5938.36","5561.32","5185.11","4668.31","4151.63","3634.86","3116.13","2681.95","2247.77","1813.59","1379.41","1187.03","994.66","802.28","609.89","470.84","331.79","192.74","53.73"],
  "labelExpr":"round(datum.index*24) % 4 === 0 ? datum.label : ''",
  "labelAngle":0,"labelFont":"Liberation Serif","labelFontSize":26,"labelColor":"#000000","labelPadding":12,"labelOverlap":false,
  "domainColor":"#868686","domainWidth":2.5,
  "tickColor":"#868686","tickWidth":1.5,"tickSize":8,
  "tickOpacity":{"condition":{"test":"round(datum.index*24) % 2 === 0","value":1},"value":0},
  "grid":true,
  "gridColor":{"condition":{"test":"round(datum.index*24) % 2 === 0","value":"#c3c3c3"},"value":"#ececec"},
  "gridWidth":{"condition":{"test":"round(datum.index*24) % 2 === 0","value":2},"value":1},
  "titleFont":"Liberation Serif","titleFontSize":32.5,"titleFontWeight":"bold","titleColor":"#000000","titleBaseline":"alphabetic","titleY":84}},
"y":{"field":"t","type":"quantitative",
 "scale":{"domain":[0,6],"nice":false},
 "axis":{"title":"t (h) Levonulási idő",
  "values":[0,0.2,0.4,0.6,0.8,1,1.2,1.4,1.6,1.8,2,2.2,2.4,2.6,2.8,3,3.2,3.4,3.6,3.8,4,4.2,4.4,4.6,4.8,5,5.2,5.4,5.6,5.8,6],
  "labelExpr":"datum.value % 1 === 0 ? '' + datum.value : ''",
  "labelFont":"Liberation Serif","labelFontSize":26,"labelColor":"#000000","labelPadding":15,
  "domainColor":"#868686","domainWidth":2.5,
  "tickColor":"#868686","tickWidth":1.5,"tickSize":8,
  "tickOpacity":{"condition":{"test":"datum.value % 1 === 0","value":1},"value":0},
  "grid":true,
  "gridColor":{"condition":{"test":"datum.value % 1 === 0","value":"#000000"},"value":"#e8e8e8"},
  "gridWidth":{"condition":{"test":"datum.value % 1 === 0","value":1.6},"value":1},
  "titleFont":"Liberation Serif","titleFontSize":32.5,"titleFontWeight":"bold","titleColor":"#000000","titleBaseline":"alphabetic","titleX":-48,"titleY":288,"titleAngle":-90}},
"color":{"field":"Q","type":"nominal",
 "scale":{"domain":["Q=0.5 m3/s","Q=1 m3/s","Q=1.5 m3/s","Q=2 m3/s","Q=3.5 m3/s","Q=20 m3/s","Q=40 m3/s"],
  "range":["#4572A7","#AA4643","#89A54E","#71588F","#4198AF","#93A9CF","#DB843D"]},
 "legend":{"title":null,"orient":"none","legendX":743,"legendY":31,
  "symbolType":"M-0.35,0H5.15","symbolSize":400,"symbolStrokeWidth":5,
  "labelFont":"Liberation Serif","labelFontSize":26,"labelColor":"#000000","labelOffset":46,"rowPadding":19,"padding":9.5,
  "strokeColor":"#000000","fillColor":"#ffffff"}}
}
}
